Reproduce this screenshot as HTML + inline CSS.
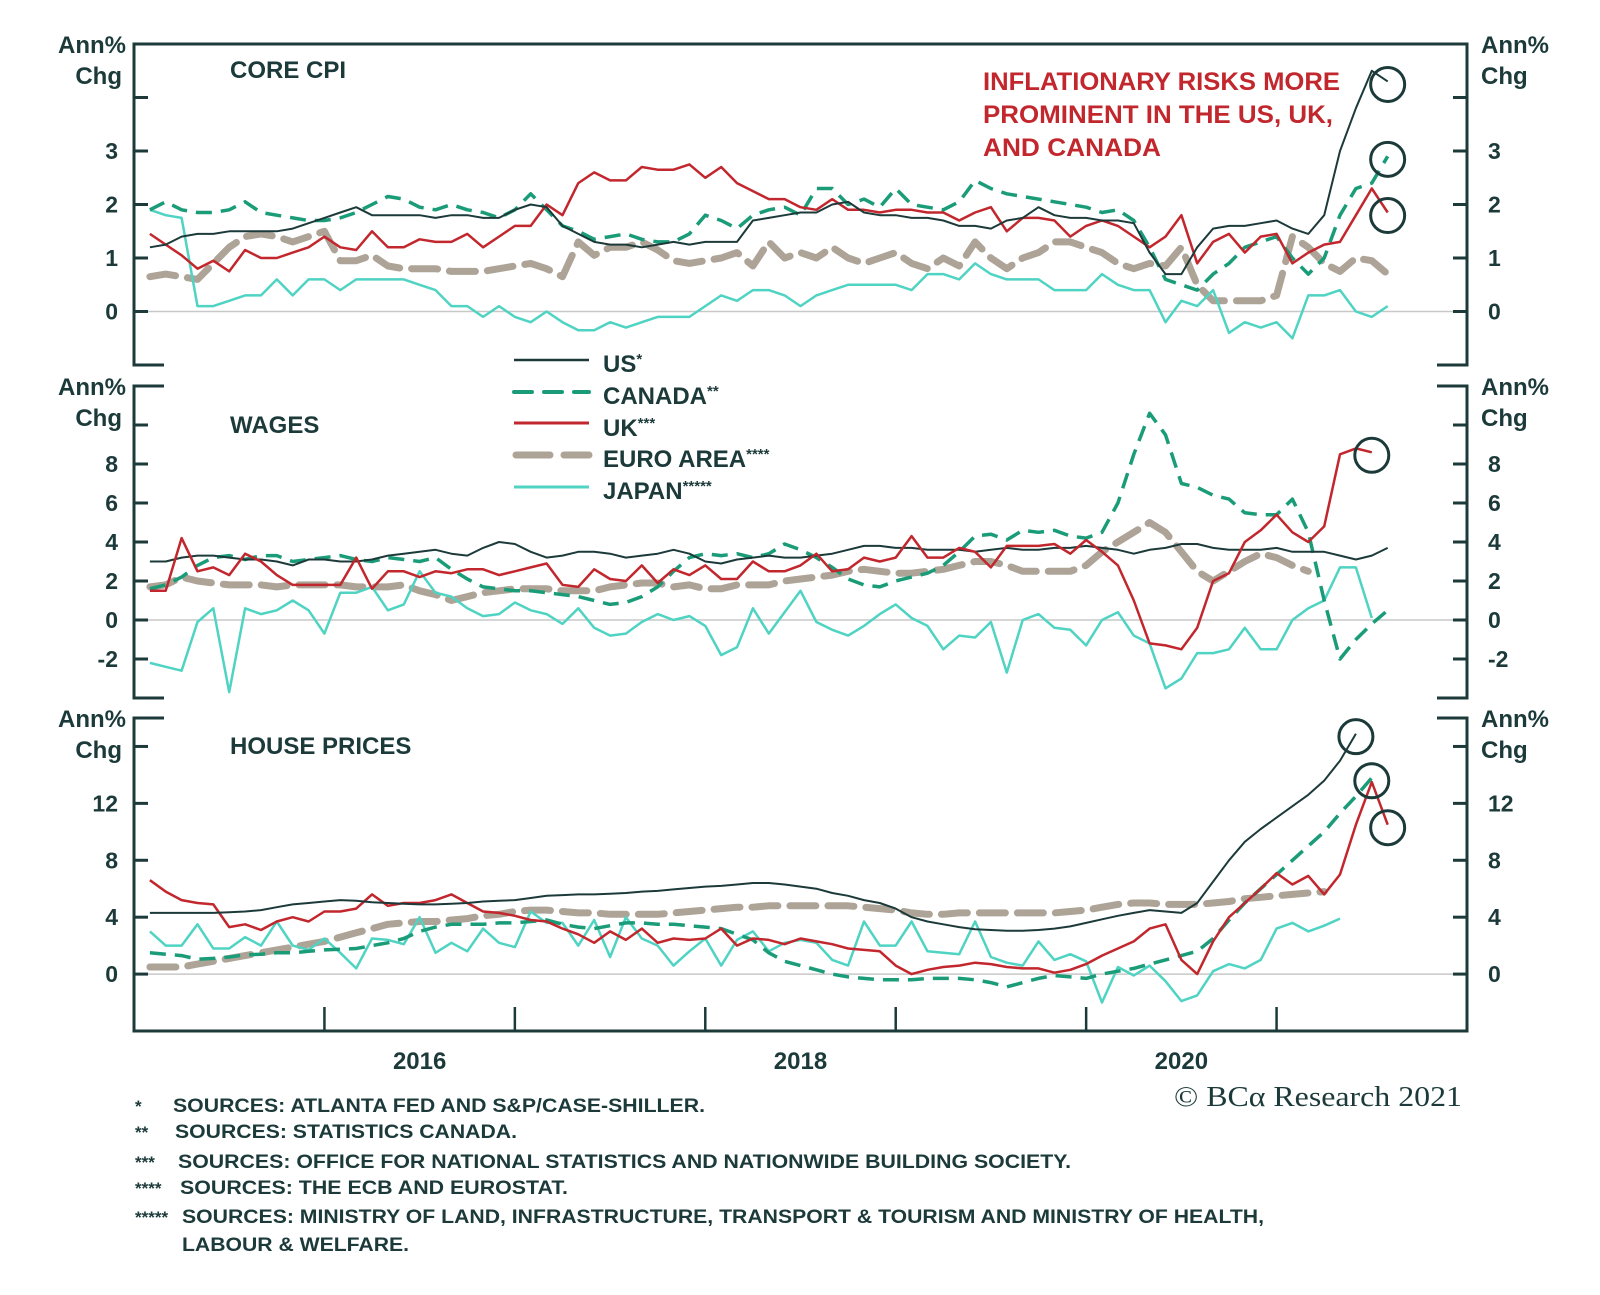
<!DOCTYPE html>
<html><head><meta charset="utf-8"><title>Inflationary risks chart</title>
<style>
html,body{margin:0;padding:0;background:#fff;}
svg{display:block;}
text{font-family:"Liberation Sans",Arial,sans-serif;font-weight:bold;fill:#1c3a3a;}
</style></head>
<body>
<svg id="chart" width="1600" height="1295" viewBox="0 0 1600 1295" xmlns="http://www.w3.org/2000/svg">
  <g id="frames"></g>
  <g id="series"></g>
  <g id="labels">
    <text x="230" y="78" font-size="24">CORE CPI</text>
    <text x="230" y="433" font-size="24">WAGES</text>
    <text x="230" y="754" font-size="24">HOUSE PRICES</text>
    <g>
      <text x="983" y="90" font-size="25" style="fill:#c1272d" textLength="357" lengthAdjust="spacingAndGlyphs">INFLATIONARY RISKS MORE</text>
      <text x="983" y="123" font-size="25" style="fill:#c1272d" textLength="350" lengthAdjust="spacingAndGlyphs">PROMINENT IN THE US, UK,</text>
      <text x="983" y="156" font-size="25" style="fill:#c1272d" textLength="178" lengthAdjust="spacingAndGlyphs">AND CANADA</text>
    </g>
    <g>
      <g>
        <line x1="514" y1="360" x2="589" y2="360" stroke="#1c3a3a" stroke-width="2.5"/>
        <text x="603" y="372" font-size="24">US<tspan font-size="15" dy="-8">*</tspan></text>
      </g>
      <g>
        <line x1="514" y1="392" x2="589" y2="392" stroke="#1a9c78" stroke-width="4" stroke-dasharray="18 12" stroke-linecap="round"/>
        <text x="603" y="404" font-size="24">CANADA<tspan font-size="15" dy="-8">**</tspan></text>
      </g>
      <g>
        <line x1="514" y1="423" x2="589" y2="423" stroke="#c1272d" stroke-width="3"/>
        <text x="603" y="436" font-size="24">UK<tspan font-size="15" dy="-8">***</tspan></text>
      </g>
      <g>
        <line x1="516" y1="455" x2="589" y2="455" stroke="#ada396" stroke-width="7" stroke-dasharray="34 14" stroke-linecap="round"/>
        <text x="603" y="467" font-size="24">EURO AREA<tspan font-size="15" dy="-8">****</tspan></text>
      </g>
      <g>
        <line x1="514" y1="487" x2="589" y2="487" stroke="#4fd3c2" stroke-width="3"/>
        <text x="603" y="499" font-size="24">JAPAN<tspan font-size="15" dy="-8">*****</tspan></text>
      </g>
    </g>
    <g font-size="19">
      <text x="135" y="1112" font-size="17">*</text>
      <text x="173" y="1112" font-size="19" textLength="532" lengthAdjust="spacingAndGlyphs">SOURCES: ATLANTA FED AND S&amp;P/CASE-SHILLER.</text>
      <text x="135" y="1138" font-size="17">**</text>
      <text x="175" y="1138" font-size="19" textLength="342" lengthAdjust="spacingAndGlyphs">SOURCES: STATISTICS CANADA.</text>
      <text x="135" y="1168" font-size="17">***</text>
      <text x="178" y="1168" font-size="19" textLength="893" lengthAdjust="spacingAndGlyphs">SOURCES: OFFICE FOR NATIONAL STATISTICS AND NATIONWIDE BUILDING SOCIETY.</text>
      <text x="135" y="1194" font-size="17">****</text>
      <text x="180" y="1194" font-size="19" textLength="388" lengthAdjust="spacingAndGlyphs">SOURCES: THE ECB AND EUROSTAT.</text>
      <text x="135" y="1223" font-size="17">*****</text>
      <text x="182" y="1223" font-size="19" textLength="1082" lengthAdjust="spacingAndGlyphs">SOURCES: MINISTRY OF LAND, INFRASTRUCTURE, TRANSPORT &amp; TOURISM AND MINISTRY OF HEALTH,</text>
      <text x="182" y="1251" font-size="19" textLength="227" lengthAdjust="spacingAndGlyphs">LABOUR &amp; WELFARE.</text>
    </g>
    <text x="1174" y="1106" font-size="29" textLength="288" lengthAdjust="spacingAndGlyphs" style="font-family:'Liberation Serif',serif;font-weight:normal;fill:#1c3a3a">© BCα Research 2021</text>
  </g>
</svg>
<script>
// ---- Data: month offsets from Jan 2015 (start month), annual % change ----
const cpiUS = [1.2,1.25,1.4,1.45,1.45,1.5,1.5,1.5,1.5,1.55,1.65,1.75,1.85,1.95,1.8,1.8,1.8,1.8,1.75,1.8,1.8,1.75,1.75,1.9,2.0,1.95,1.6,1.45,1.3,1.25,1.25,1.2,1.25,1.3,1.25,1.3,1.3,1.3,1.7,1.75,1.8,1.85,1.85,2.0,2.05,1.85,1.8,1.8,1.75,1.75,1.7,1.6,1.6,1.55,1.7,1.75,1.95,1.8,1.75,1.75,1.7,1.7,1.65,1.1,0.7,0.7,1.2,1.55,1.6,1.6,1.65,1.7,1.55,1.45,1.8,3.0,3.8,4.5,4.3];
const cpiCanada = [1.9,2.05,1.9,1.85,1.85,1.9,2.05,1.85,1.8,1.75,1.7,1.7,1.75,1.85,2.0,2.15,2.1,1.95,1.9,2.0,1.9,1.85,1.75,1.9,2.2,1.9,1.6,1.5,1.35,1.4,1.45,1.35,1.3,1.3,1.45,1.8,1.7,1.55,1.8,1.9,1.95,1.8,2.3,2.3,2.0,2.1,1.95,2.3,2.0,1.95,1.9,2.05,2.45,2.3,2.2,2.15,2.1,2.05,2.0,1.95,1.85,1.9,1.7,1.2,0.6,0.5,0.4,0.7,0.9,1.2,1.3,1.4,1.0,0.7,1.0,1.8,2.3,2.4,2.9];
const cpiUK = [1.45,1.25,1.05,0.8,0.95,0.75,1.15,1.0,1.0,1.1,1.2,1.4,1.2,1.15,1.5,1.2,1.2,1.35,1.3,1.3,1.45,1.2,1.4,1.6,1.6,2.0,1.8,2.4,2.6,2.45,2.45,2.7,2.65,2.65,2.75,2.5,2.7,2.4,2.25,2.1,2.1,1.95,1.9,2.1,1.9,1.9,1.85,1.9,1.9,1.85,1.85,1.7,1.85,1.95,1.5,1.75,1.75,1.7,1.4,1.6,1.7,1.6,1.4,1.2,1.4,1.8,0.9,1.3,1.45,1.1,1.4,1.45,0.9,1.1,1.25,1.3,1.8,2.3,1.85];
const cpiEuro = [0.65,0.7,0.65,0.6,0.9,1.2,1.4,1.45,1.4,1.3,1.4,1.5,0.95,0.95,1.05,0.85,0.8,0.8,0.8,0.75,0.75,0.75,0.8,0.85,0.9,0.8,0.65,1.3,1.05,1.2,1.2,1.3,1.15,0.95,0.9,0.95,1.0,1.1,0.85,1.3,1.0,1.1,1.0,1.2,1.0,0.9,1.0,1.1,0.9,0.8,1.0,0.85,1.3,1.0,0.8,1.0,1.1,1.3,1.3,1.2,1.1,0.9,0.8,0.9,0.85,1.2,0.5,0.2,0.2,0.2,0.2,0.3,1.4,1.2,0.9,0.75,1.0,0.95,0.7];
const cpiJapan = [1.9,1.8,1.75,0.1,0.1,0.2,0.3,0.3,0.6,0.3,0.6,0.6,0.4,0.6,0.6,0.6,0.6,0.5,0.4,0.1,0.1,-0.1,0.1,-0.1,-0.2,0.0,-0.2,-0.35,-0.35,-0.2,-0.3,-0.2,-0.1,-0.1,-0.1,0.1,0.3,0.2,0.4,0.4,0.3,0.1,0.3,0.4,0.5,0.5,0.5,0.5,0.4,0.7,0.7,0.6,0.9,0.7,0.6,0.6,0.6,0.4,0.4,0.4,0.7,0.5,0.4,0.4,-0.2,0.2,0.1,0.4,-0.4,-0.2,-0.3,-0.2,-0.5,0.3,0.3,0.4,0.0,-0.1,0.1];

const wageUS = [3.0,3.0,3.2,3.3,3.3,3.2,3.1,3.1,3.0,2.8,3.1,3.1,3.0,3.0,3.1,3.3,3.4,3.5,3.6,3.4,3.3,3.7,4.0,3.9,3.5,3.2,3.3,3.5,3.5,3.4,3.2,3.3,3.4,3.6,3.4,3.0,2.9,3.1,3.2,3.3,3.2,3.2,3.3,3.4,3.6,3.8,3.8,3.7,3.7,3.6,3.6,3.6,3.5,3.6,3.7,3.6,3.6,3.7,3.7,3.8,3.7,3.6,3.4,3.6,3.7,3.9,3.9,3.7,3.6,3.6,3.6,3.7,3.5,3.5,3.5,3.3,3.1,3.3,3.7];
const wageCanada = [1.6,1.8,2.2,2.8,3.2,3.3,3.1,3.3,3.3,3.0,3.1,3.2,3.3,3.1,3.0,3.2,3.1,3.0,3.2,2.6,2.1,1.7,1.6,1.5,1.5,1.4,1.3,1.2,1.0,0.8,0.9,1.2,1.7,2.5,3.2,3.4,3.3,3.4,3.2,3.4,3.9,3.6,3.2,2.7,2.1,1.8,1.7,2.0,2.2,2.4,2.8,3.5,4.3,4.4,4.1,4.6,4.5,4.6,4.3,4.2,4.5,6.0,8.5,10.6,9.5,7.0,6.8,6.4,6.2,5.5,5.4,5.4,6.2,4.5,1.0,-2.0,-1.0,-0.2,0.5];
const wageUK = [1.5,1.5,4.2,2.5,2.7,2.3,3.4,3.0,2.3,1.8,1.8,1.8,1.8,3.2,1.6,2.5,2.5,2.2,2.5,2.4,2.6,2.6,2.3,2.5,2.7,2.9,1.8,1.7,2.6,2.1,2.0,2.8,1.9,2.6,2.3,2.8,2.1,2.1,3.0,2.5,2.5,2.8,3.4,2.5,2.6,3.2,3.0,3.2,4.3,3.2,3.2,3.7,3.5,2.7,3.8,3.8,3.8,3.9,3.4,4.1,3.5,2.8,1.0,-1.2,-1.3,-1.5,-0.4,2.0,2.4,4.0,4.6,5.4,4.5,4.0,4.8,8.5,8.8,8.6];
const wageEuro = [1.7,1.8,2.2,2.0,1.9,1.8,1.8,1.8,1.7,1.8,1.8,1.8,1.8,1.7,1.7,1.7,1.8,1.5,1.3,1.0,1.2,1.4,1.5,1.6,1.6,1.6,1.5,1.5,1.5,1.7,1.8,1.9,1.9,1.7,1.8,1.6,1.6,1.8,1.8,1.8,2.0,2.1,2.2,2.3,2.5,2.6,2.5,2.4,2.4,2.5,2.6,2.8,3.0,3.0,2.8,2.5,2.5,2.5,2.5,2.8,3.5,4.0,4.5,5.0,4.5,3.5,2.5,2.0,2.5,3.0,3.4,3.2,2.8,2.5];
const wageJapan = [-2.2,-2.4,-2.6,-0.1,0.6,-3.7,0.6,0.3,0.5,1.0,0.5,-0.7,1.4,1.4,1.7,0.5,0.8,2.5,1.4,1.2,0.6,0.2,0.3,0.9,0.5,0.3,-0.2,0.6,-0.4,-0.8,-0.7,-0.1,0.3,0.0,0.2,-0.3,-1.8,-1.4,0.6,-0.7,0.4,1.5,-0.1,-0.5,-0.8,-0.3,0.3,0.8,0.1,-0.3,-1.5,-0.8,-0.9,-0.1,-2.7,0.0,0.3,-0.4,-0.5,-1.3,0.0,0.4,-0.8,-1.2,-3.5,-3.0,-1.7,-1.7,-1.5,-0.4,-1.5,-1.5,0.0,0.6,1.0,2.7,2.7,0.1];

const houseUS = [4.3,4.3,4.3,4.3,4.3,4.35,4.4,4.5,4.7,4.9,5.0,5.1,5.2,5.15,5.05,5.0,4.95,4.9,4.9,4.95,5.0,5.1,5.15,5.2,5.35,5.5,5.55,5.6,5.6,5.65,5.7,5.8,5.85,5.95,6.05,6.15,6.2,6.3,6.4,6.4,6.3,6.15,6.0,5.7,5.5,5.2,5.0,4.6,4.0,3.7,3.5,3.3,3.15,3.1,3.05,3.05,3.1,3.2,3.35,3.6,3.85,4.1,4.3,4.5,4.4,4.3,5.0,6.5,8.0,9.3,10.2,11.0,11.8,12.6,13.6,15.0,16.9];
const houseCanada = [1.5,1.4,1.3,1.05,1.1,1.2,1.35,1.4,1.5,1.5,1.6,1.7,1.75,1.8,2.0,2.2,2.5,3.0,3.3,3.5,3.5,3.5,3.6,3.6,3.7,3.8,3.5,3.3,3.2,3.4,3.6,3.6,3.5,3.5,3.4,3.3,3.2,2.8,2.4,1.5,0.9,0.6,0.3,0.0,-0.2,-0.3,-0.4,-0.4,-0.4,-0.3,-0.3,-0.3,-0.4,-0.6,-0.9,-0.6,-0.3,-0.1,-0.2,-0.3,0.0,0.2,0.4,0.7,1.0,1.3,1.6,2.5,3.8,5.0,6.0,7.0,8.0,9.0,10.0,11.3,12.5,13.8];
const houseUK = [6.6,5.8,5.2,5.0,4.9,3.3,3.5,3.1,3.7,4.0,3.7,4.4,4.4,4.6,5.6,4.8,5.0,5.0,5.2,5.6,5.0,4.4,4.3,4.1,3.8,3.7,3.2,2.8,2.2,3.0,2.4,3.2,2.2,2.5,2.4,2.5,3.2,2.0,2.5,2.4,2.1,2.5,2.3,2.1,1.8,1.7,1.6,0.6,0.0,0.3,0.5,0.6,0.8,0.7,0.5,0.4,0.4,0.1,0.3,0.7,1.3,1.8,2.3,3.2,3.5,1.0,0.0,2.3,4.0,5.0,6.0,7.1,6.3,6.9,5.6,7.0,10.5,13.5,10.5];
const houseEuro = [0.5,0.5,0.5,0.7,0.9,1.1,1.3,1.5,1.7,1.9,2.1,2.3,2.6,2.9,3.2,3.5,3.6,3.7,3.7,3.8,3.9,4.1,4.2,4.4,4.5,4.5,4.4,4.3,4.3,4.2,4.2,4.2,4.2,4.3,4.4,4.5,4.6,4.7,4.7,4.8,4.8,4.8,4.8,4.8,4.8,4.7,4.6,4.5,4.3,4.2,4.2,4.3,4.3,4.3,4.3,4.3,4.3,4.3,4.4,4.5,4.7,4.9,5.0,5.0,4.9,4.9,4.9,5.0,5.1,5.3,5.4,5.5,5.6,5.7,5.8];
const houseJapan = [3.0,2.0,2.0,3.5,1.8,1.8,2.6,2.0,3.7,2.0,1.7,2.5,1.5,0.4,2.5,2.4,2.1,4.0,1.5,2.2,1.6,3.2,2.2,1.9,4.4,3.6,3.6,2.0,3.8,1.2,4.0,2.5,2.0,0.6,1.6,2.5,0.6,2.4,3.0,1.6,2.2,2.4,2.2,1.0,0.6,3.7,2.0,2.0,3.7,1.6,1.5,1.4,3.7,1.2,0.8,0.6,2.3,1.0,1.4,0.9,-2.0,0.5,-0.1,0.6,-0.5,-1.9,-1.5,0.2,0.7,0.4,1.0,3.2,3.6,3.0,3.4,3.9];

const yearTicks = [2016,2017,2018,2019,2020,2021];
const yearLabels = [2016,2018,2020];
const cpiTicks = [0,1,2,3];
const wageTicks = [-2,0,2,4,6,8];
const houseTicks = [0,4,8,12];

// ---- Layout ----
const NS = "http://www.w3.org/2000/svg";
const X0 = 134, X1 = 1467, T0 = 2015, T1 = 2022;
function xScale(monthIdx){ return X0 + (monthIdx/12) / (T1 - T0) * (X1 - X0); }
function makeY(vmin, vmax, ytop, ybot){ return v => ybot - (v - vmin) / (vmax - vmin) * (ybot - ytop); }
const panels = [
  {key:'cpi', name:'core-cpi', min:-1, max:5, top:44, bot:365, ticks:cpiTicks, minor:[4], fullTop:true, fullBot:false},
  {key:'wage', name:'wages', min:-4, max:12, top:386, bot:698, ticks:wageTicks, minor:[10], fullTop:false, fullBot:false},
  {key:'house', name:'house-prices', min:-4, max:18, top:718, bot:1031, ticks:houseTicks, minor:[16], fullTop:false, fullBot:true}
];
panels.forEach(p => p.y = makeY(p.min, p.max, p.top, p.bot));
const AX = '#1c3a3a';

function el(tag, attrs, parent){
  const e = document.createElementNS(NS, tag);
  for (const k in attrs) e.setAttribute(k, attrs[k]);
  parent.appendChild(e);
  return e;
}
const frames = document.getElementById('frames');
const seriesG = document.getElementById('series');

panels.forEach(p => {
  const g = el('g', {}, frames);
  
  
  const z = el('line', {x1:X0, x2:X1, y1:p.y(0), y2:p.y(0), stroke:'#c8c8c8', 'stroke-width':1.5}, g);
  
  
  el('line', {x1:X0, x2:X0, y1:p.top, y2:p.bot, stroke:AX, 'stroke-width':3}, g);
  el('line', {x1:X1, x2:X1, y1:p.top, y2:p.bot, stroke:AX, 'stroke-width':3}, g);
  if (p.fullTop) el('line', {x1:X0-1.5, x2:X1+1.5, y1:p.top, y2:p.top, stroke:AX, 'stroke-width':3}, g);
  else { el('line', {x1:X0-1.5, x2:X0+30, y1:p.top, y2:p.top, stroke:AX, 'stroke-width':3}, g);
         el('line', {x1:X1-30, x2:X1+1.5, y1:p.top, y2:p.top, stroke:AX, 'stroke-width':3}, g); }
  if (p.fullBot) el('line', {x1:X0-1.5, x2:X1+1.5, y1:p.bot, y2:p.bot, stroke:AX, 'stroke-width':3}, g);
  else { el('line', {x1:X0-1.5, x2:X0+30, y1:p.bot, y2:p.bot, stroke:AX, 'stroke-width':3}, g);
         el('line', {x1:X1-30, x2:X1+1.5, y1:p.bot, y2:p.bot, stroke:AX, 'stroke-width':3}, g); }
  p.ticks.concat(p.minor).forEach(v => {
    el('line', {x1:X0, x2:X0+14, y1:p.y(v), y2:p.y(v), stroke:AX, 'stroke-width':3}, g);
    el('line', {x1:X1-14, x2:X1, y1:p.y(v), y2:p.y(v), stroke:AX, 'stroke-width':3}, g);
  });
  p.ticks.forEach(v => {
    const tl = el('text', {x:118, y:p.y(v)+8, 'font-size':23, 'text-anchor':'end'}, g);
    tl.textContent = String(v);
    
    
    const tr = el('text', {x:1488, y:p.y(v)+8, 'font-size':23, 'text-anchor':'start'}, g);
    tr.textContent = String(v);
    
    
  });
  [['Ann%',126,'end',p.top+9],['Chg',122,'end',p.top+40],['Ann%',1481,'start',p.top+9],['Chg',1481,'start',p.top+40]].forEach(u => {
    const t = el('text', {x:u[1], y:u[3], 'font-size':24, 'text-anchor':u[2]}, g);
    t.textContent = u[0];
    
    
  });
});
const pb = panels[2];
yearTicks.forEach(yr => {
  const x = xScale((yr - T0) * 12);
  const t = el('line', {x1:x, x2:x, y1:pb.bot, y2:pb.bot-24, stroke:AX, 'stroke-width':2.5}, frames);
  
  
});
yearLabels.forEach(yr => {
  const t = el('text', {x:xScale((yr - T0) * 12 + 6), y:1069, 'font-size':24, 'text-anchor':'middle'}, frames);
  t.textContent = String(yr);
  
  
});

// ---- Series ----
const styles = {
  euro:   {stroke:'#ada396', width:7, dash:'26 12', cap:'round'},
  japan:  {stroke:'#4fd3c2', width:2.5, dash:null, cap:'butt'},
  canada: {stroke:'#1a9c78', width:3.5, dash:'16 9', cap:'butt'},
  uk:     {stroke:'#c1272d', width:2.5, dash:null, cap:'butt'},
  us:     {stroke:'#1c3a3a', width:2, dash:null, cap:'butt'}
};
const seriesDefs = [
  ['cpi','euro',cpiEuro],['cpi','japan',cpiJapan],['cpi','canada',cpiCanada],['cpi','uk',cpiUK],['cpi','us',cpiUS],
  ['wage','euro',wageEuro],['wage','japan',wageJapan],['wage','canada',wageCanada],['wage','us',wageUS],['wage','uk',wageUK],
  ['house','euro',houseEuro],['house','japan',houseJapan],['house','canada',houseCanada],['house','uk',houseUK],['house','us',houseUS]
];
const lastPts = {};
seriesDefs.forEach(d => {
  const p = panels.find(q => q.key === d[0]);
  const s = styles[d[1]];
  const vals = d[2];
  const pts = vals.map((v, i) => xScale(i + 1).toFixed(1) + ',' + p.y(v).toFixed(1));
  const pl = el('polyline', {points:pts.join(' '), fill:'none', stroke:s.stroke, 'stroke-width':s.width, 'stroke-linejoin':'round', 'stroke-linecap':s.cap}, seriesG);
  if (s.dash) pl.setAttribute('stroke-dasharray', s.dash);
  
  
  lastPts[d[0] + '-' + d[1]] = [xScale(vals.length), p.y(vals[vals.length - 1])];
});
['cpi-us','cpi-canada','cpi-uk','wage-uk','house-us','house-canada','house-uk'].forEach(k => {
  const pt = lastPts[k];
  const c = el('circle', {cx:pt[0], cy:pt[1] + 3, r:17, fill:'none', stroke:AX, 'stroke-width':3}, seriesG);
  
  
});
</script>
</body></html>
